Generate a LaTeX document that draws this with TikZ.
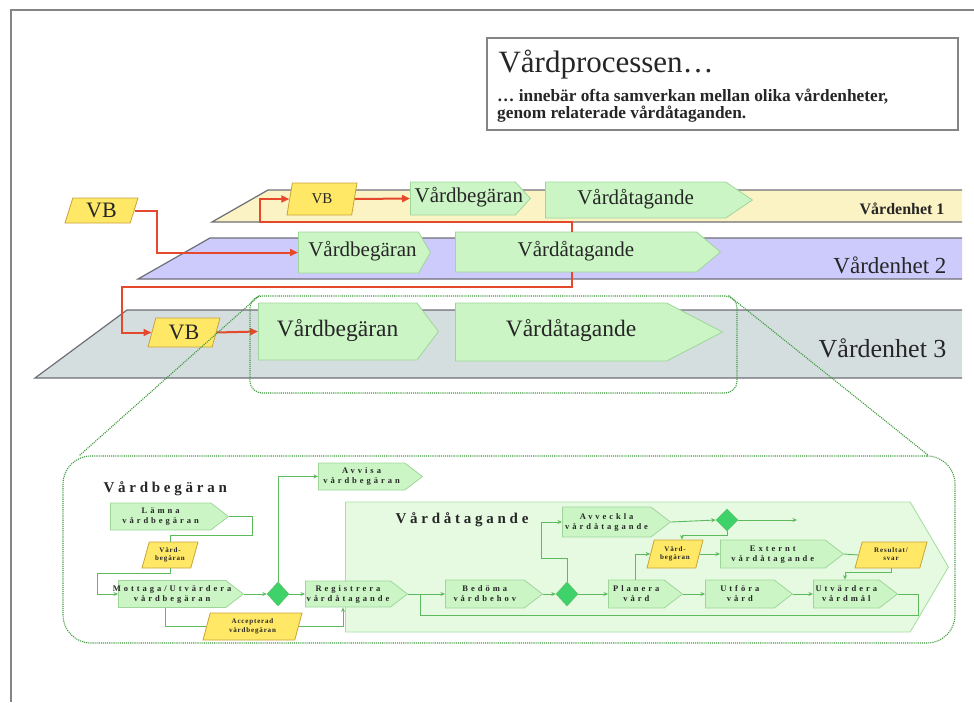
\documentclass[tikz,border=0pt]{standalone}
\usepackage{fontspec}
\setmainfont{Liberation Serif}
\newfontfamily\taskfont[LetterSpace=35]{Liberation Serif}
\newfontfamily\docfont[LetterSpace=12]{Liberation Serif}
\newfontfamily\headfont[LetterSpace=25]{Liberation Serif}
\usetikzlibrary{shapes.geometric,shapes.symbols,arrows.meta}

% text that does not widen its shape
\newcommand\slimtext[1]{\makebox[0pt]{\begin{tabular}{@{}c@{}}#1\end{tabular}}}

\definecolor{bandA}{HTML}{FBF3C4}
\definecolor{bandB}{HTML}{CDCBFB}
\definecolor{bandC}{HTML}{D4DEDF}
\definecolor{bandline}{HTML}{6E6E78}
\definecolor{flowred}{HTML}{E5482A}
\definecolor{stepfill}{HTML}{CCF5C6}
\definecolor{stepline}{HTML}{9ED69A}
\definecolor{docfill}{HTML}{FFE866}
\definecolor{docline}{HTML}{C9A23A}
\definecolor{linkgreen}{HTML}{5DBB5D}
\definecolor{zoomgreen}{HTML}{3E9A3E}
\definecolor{gatefill}{HTML}{3FD26A}
\definecolor{framegray}{HTML}{858585}
\definecolor{bigfill}{HTML}{E6FAE2}
\definecolor{bigline}{HTML}{A8DFA3}
\definecolor{inktext}{HTML}{262626}

\begin{document}
\begin{tikzpicture}[x=1pt,y=-1pt,
  phase/.style={signal, signal to=east, draw=stepline, fill=stepfill,
    line width=0.8pt, inner sep=0pt, text=inktext, anchor=west},
  request/.style={trapezium, trapezium left angle=62, trapezium right angle=118,
    trapezium stretches body=true, draw=docline, fill=docfill, line width=0.8pt,
    inner sep=0pt, text=inktext},
  redflow/.style={draw=flowred, line width=2pt, -{Triangle[length=8pt,width=7pt]}},
  lensline/.style={draw=zoomgreen, line width=1.1pt, densely dotted},
  task/.style={phase, signal pointer angle=75,
    font=\taskfont\bfseries\fontsize{8.5}{10}\selectfont},
  smalldoc/.style={request, trapezium left angle=67, trapezium right angle=113,
    font=\docfont\bfseries\fontsize{7}{8.5}\selectfont},
  gate/.style={diamond, draw=linkgreen, fill=gatefill, inner sep=0pt,
    minimum width=22pt, minimum height=24pt},
  link/.style={draw=linkgreen, line width=0.9pt},
  linkto/.style={link, -{Stealth[length=4.5pt,width=4pt]}},
  unitlabel/.style={anchor=base east, text=inktext},
]
\useasboundingbox (0,0) rectangle (974,702);

% page frame
\draw[framegray, line width=2pt] (11,702) -- (11,10) -- (974,10);

% heading box
\node[draw=framegray, line width=1.8pt, minimum width=471pt, minimum height=92pt,
  inner sep=0pt] (titlebox) at (722.5,84) {};
\node[anchor=base west, font=\fontsize{31}{31}\selectfont, text=inktext]
  (ttl) at (495,72) {Vårdprocessen…};
\node[anchor=base west, inner sep=0pt, text=inktext,
  font=\bfseries\fontsize{17.3}{17}\selectfont]
  (subA) at (497,101) {… innebär ofta samverkan mellan olika vårdenheter,};
\node[anchor=base west, inner sep=0pt, text=inktext,
  font=\bfseries\fontsize{17.3}{17}\selectfont]
  (subB) at (497,118) {genom relaterade vårdåtaganden.};

% the three care units
\fill[bandA] (212,222) -- (268,190) -- (962,190) -- (962,222) -- cycle;
\draw[bandline, line width=1.2pt] (962,190) -- (268,190) -- (212,222) -- (962,222);
\fill[bandB] (138,279) -- (210,238) -- (962,238) -- (962,279) -- cycle;
\draw[bandline, line width=1.2pt] (962,238) -- (210,238) -- (138,279) -- (962,279);
\fill[bandC] (35,378) -- (127,310) -- (962,310) -- (962,378) -- cycle;
\draw[bandline, line width=1.2pt] (962,310) -- (127,310) -- (35,378) -- (962,378);

\node[unitlabel, font=\bfseries\fontsize{16}{16}\selectfont] (unit1) at (948,214) {Vårdenhet 1};
\node[unitlabel, font=\fontsize{23}{23}\selectfont] (unit2) at (950,273) {Vårdenhet 2};
\node[unitlabel, font=\fontsize{26}{26}\selectfont] (unit3) at (950,357) {Vårdenhet 3};

% requests and commitments per unit
\node[request, minimum width=73pt, minimum height=25pt,
  font=\fontsize{22}{22}\selectfont] (vb0) at (101.5,210.5) {VB};
\node[request, minimum width=70pt, minimum height=32pt,
  font=\fontsize{15}{15}\selectfont] (vb1) at (322,199) {VB};
\node[request, minimum width=72pt, minimum height=29pt,
  font=\fontsize{22}{22}\selectfont] (vb3) at (184,332.5) {VB};

\node[phase, signal pointer angle=95, minimum width=120pt, minimum height=33pt,
  font=\fontsize{21}{21}\selectfont] (req1) at (410,198.5) {\slimtext{\hspace{12pt}Vårdbegäran}};
\node[phase, signal pointer angle=68, minimum width=207pt, minimum height=36pt,
  font=\fontsize{21}{21}\selectfont] (com1) at (545,200) {\slimtext{Vårdåtagande}};
\node[phase, signal pointer angle=120, minimum width=132pt, minimum height=41pt,
  font=\fontsize{21}{21}\selectfont] (req2) at (298,252.5) {\slimtext{\hspace{8pt}Vårdbegäran}};
\node[phase, signal pointer angle=80, minimum width=265pt, minimum height=40pt,
  font=\fontsize{21}{21}\selectfont] (com2) at (455,252) {\slimtext{Vårdåtagande}};
\node[phase, signal pointer angle=106, minimum width=180pt, minimum height=57pt,
  font=\fontsize{23.5}{23.5}\selectfont] (req3) at (258,331.5) {\slimtext{Vårdbegäran}};
\node[phase, signal pointer angle=55, minimum width=267pt, minimum height=58pt,
  font=\fontsize{23.5}{23.5}\selectfont] (com3) at (455,332) {\slimtext{\hspace{20pt}Vårdåtagande}};

% hand-over between units
\draw[redflow] (vb0.east) -- ++(22,0) |- (req2.west);
\draw[redflow] ([xshift=117pt]com2.north west) |- (260,222) |- (vb1.west);
\draw[redflow] (vb1.east) -- (req1.west);
\draw[redflow] ([xshift=117pt]com2.south west) |- (122,287) |- (vb3.west);
\draw[redflow] (vb3.east) -- (req3.west);

% enlargement of unit 3
\node[draw=zoomgreen, line width=1.1pt, densely dotted, rounded corners=12pt,
  minimum width=487pt, minimum height=97pt, inner sep=0pt] (lens) at (493.5,344.5) {};
\node[draw=zoomgreen, line width=1.1pt, densely dotted, rounded corners=28pt,
  minimum width=892pt, minimum height=187pt, inner sep=0pt] (detail) at (509,549.5) {};
\draw[lensline] ([xshift=10pt]lens.north west) -- ([xshift=17pt]detail.north west);
\draw[lensline] ([xshift=-9pt]lens.north east) -- ([xshift=-27pt]detail.north east);

% commitment sub-process area
\node[signal, signal to=east, signal pointer angle=119, draw=bigline, fill=bigfill,
  line width=0.9pt, minimum width=603pt, minimum height=130pt, inner sep=0pt,
  anchor=west] (combig) at (345,567) {};

\node[anchor=base west, font=\headfont\bfseries\fontsize{15}{15}\selectfont, text=inktext]
  (headreq) at (100,492) {Vårdbegäran};
\node[anchor=base west, font=\headfont\bfseries\fontsize{15}{15}\selectfont, text=inktext]
  (headcom) at (392,523) {Vårdåtagande};

% request handling steps
\node[task, minimum width=118pt, minimum height=27pt] (lamna) at (110,516.5) {\slimtext{Lämna\\vårdbegäran}};
\node[smalldoc, minimum width=56pt, minimum height=26pt] (vbreq) at (170,555) {\slimtext{Vård-\\begäran}};
\node[task, minimum width=125pt, minimum height=27pt] (mottaga) at (118,594) {\slimtext{Mottaga/Utvärdera\\vårdbegäran}};
\node[gate] (gate1) at (278,594) {};
\node[task, minimum width=104pt, minimum height=27pt] (avvisa) at (318,476.5) {\slimtext{Avvisa\\vårdbegäran}};
\node[task, minimum width=102pt, minimum height=26pt] (registrera) at (305,594) {\slimtext{Registrera\\vårdåtagande}};
\node[smalldoc, minimum width=99pt, minimum height=27pt] (accept) at (252.5,626.5) {\slimtext{Accepterad\\vårdbegäran}};

% commitment steps
\node[task, minimum width=97pt, minimum height=28pt] (bedoma) at (445,594) {\slimtext{Bedöma\\vårdbehov}};
\node[gate] (gate2) at (567,594) {};
\node[task, minimum width=108pt, minimum height=30pt] (avveckla) at (562,522) {\slimtext{Avveckla\\vårdåtagande}};
\node[gate, minimum width=22pt, minimum height=22pt] (gate3) at (727,520) {};
\coordinate (closed) at (797,520);
\node[task, minimum width=74pt, minimum height=28pt] (planera) at (608,594) {\slimtext{Planera\\vård}};
\node[smalldoc, minimum width=56pt, minimum height=28pt] (vbreq2) at (675,554) {\slimtext{Vård-\\begäran}};
\node[task, minimum width=123pt, minimum height=28pt] (externt) at (720,554) {\slimtext{Externt\\vårdåtagande}};
\node[smalldoc, minimum width=72pt, minimum height=26pt] (resultat) at (891,555) {\slimtext{Resultat/\\svar}};
\node[task, minimum width=87pt, minimum height=28pt] (utfora) at (705,594) {\slimtext{Utföra\\vård}};
\node[task, minimum width=84pt, minimum height=28pt] (utvardera) at (813,594) {\slimtext{Utvärdera\\vårdmål}};
\coordinate (loopjoin) at (420,594);

% request handling flow
\draw[link] (lamna.east) -| (252,535) -| (vbreq.north);
\draw[linkto] (vbreq.south) |- (97,573) |- (mottaga.west);
\draw[linkto] (mottaga.east) -- (gate1.west);
\draw[linkto] (gate1.east) -- (registrera.west);
\draw[linkto] (gate1.north) |- (avvisa.west);
\draw[link] ([xshift=47pt]mottaga.south west) |- (accept.west);
\draw[linkto] (accept.east) -| ([xshift=38pt]registrera.south west);

% commitment flow
\draw[linkto] (registrera.east) -- (bedoma.west);
\draw[linkto] (bedoma.east) -- (gate2.west);
\draw[linkto] (gate2.east) -- (planera.west);
\draw[linkto] (gate2.north) |- (541,558) |- (avveckla.west);
\draw[linkto] (avveckla.east) -- (gate3.west);
\draw[linkto] (gate3.east) -- (closed);
\draw[linkto] (gate3.south) -- ++(0,4) -| ([xshift=7pt]vbreq2.north);
\draw[linkto] ([xshift=27pt]planera.north west) |- (vbreq2.west);
\draw[linkto] (vbreq2.east) -- (externt.west);
\draw[link] (externt.east) -- (resultat.west);
\draw[linkto] (resultat.south) -- ++(0,4) -| ([xshift=32pt]utvardera.north west);
\draw[linkto] (planera.east) -- (utfora.west);
\draw[linkto] (utfora.east) -- (utvardera.west);
\draw[link] (utvardera.east) -- ++(20,0) -- ++(0,21) -| (loopjoin);
\end{tikzpicture}
\end{document}
